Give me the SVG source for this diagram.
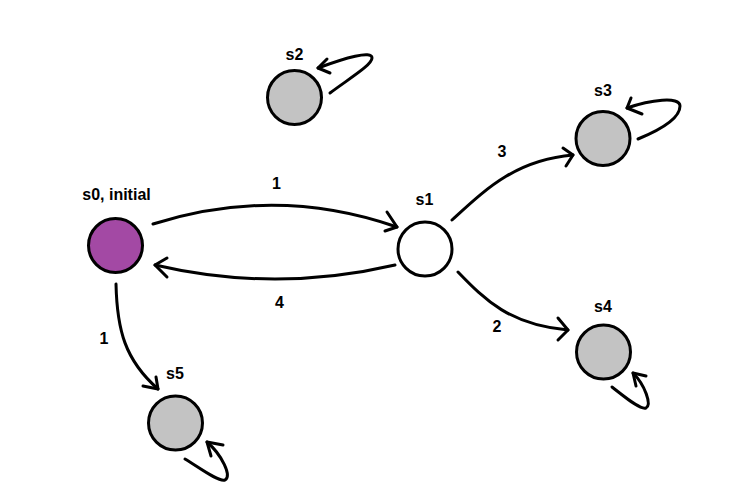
<svg xmlns="http://www.w3.org/2000/svg" width="750" height="504" viewBox="0 0 750 504">
<style>
.state{stroke:#000;stroke-width:3}
.gray{fill:#c3c3c3}
.lbl{font-family:"Liberation Sans",Arial,sans-serif;font-weight:bold;font-size:16px;fill:#000;text-anchor:middle}
.edge{fill:none;stroke:#000;stroke-width:3;stroke-linecap:round;stroke-linejoin:round}
</style>
<rect width="750" height="504" fill="#fff"/>
<g id="connectors">
<path class="edge" d="M153,224 Q277,185 397,227"/>
<path class="edge" d="M387,212 L397,227 L385,231"/>
<path class="edge" d="M395,265 Q275,293 155,265"/>
<path class="edge" d="M167,258 L155,265 L167,277"/>
<path class="edge" d="M452,220 C485,190 515,160 573,155"/>
<path class="edge" d="M563,148 L573,155 L566,166"/>
<path class="edge" d="M458,272 C485,300 510,325 568,330"/>
<path class="edge" d="M558,318 L568,330 L558,340"/>
<path class="edge" d="M116,284 C117,330 125,360 158,389"/>
<path class="edge" d="M143,386 L158,389 L156,377"/>
<path class="edge" d="M330,93 C350,78 372,65 372,58 C372,50 345,58 318,68"/>
<path class="edge" d="M327,59 L318,68 L330,73"/>
<path class="edge" d="M638,139 C660,130 680,118 680,106 C680,96 650,100 627,108"/>
<path class="edge" d="M631,98 L627,108 L642,114"/>
<path class="edge" d="M612,387 C625,397 640,410 646,408 C652,405 645,385 633,373"/>
<path class="edge" d="M646,376 L633,373 L636,386"/>
<path class="edge" d="M185,459 C200,468 218,482 225,480 C232,476 222,455 207,442"/>
<path class="edge" d="M223,445 L207,442 L211,456"/>
<text class="lbl" x="276.5" y="189">1</text>
<text class="lbl" x="279.5" y="308">4</text>
<text class="lbl" x="502" y="157">3</text>
<text class="lbl" x="497" y="332">2</text>
<text class="lbl" x="104" y="344">1</text>
</g>
<g id="s0">
<circle class="state" cx="115.5" cy="245.5" r="27" fill="#a349a4"/>
<text class="lbl" x="116.5" y="200">s0, initial</text>
</g>
<g id="s1">
<circle class="state" cx="425" cy="249" r="27" fill="#fff"/>
<text class="lbl" x="424.5" y="205">s1</text>
</g>
<g id="s2">
<circle class="state gray" cx="294.5" cy="97.5" r="27"/>
<text class="lbl" x="294.5" y="60">s2</text>
</g>
<g id="s3">
<circle class="state gray" cx="603" cy="138.5" r="27"/>
<text class="lbl" x="603" y="96">s3</text>
</g>
<g id="s4">
<circle class="state gray" cx="603.5" cy="352" r="27"/>
<text class="lbl" x="603" y="312">s4</text>
</g>
<g id="s5">
<circle class="state gray" cx="175.5" cy="423" r="27"/>
<text class="lbl" x="175" y="379">s5</text>
</g>
</svg>
